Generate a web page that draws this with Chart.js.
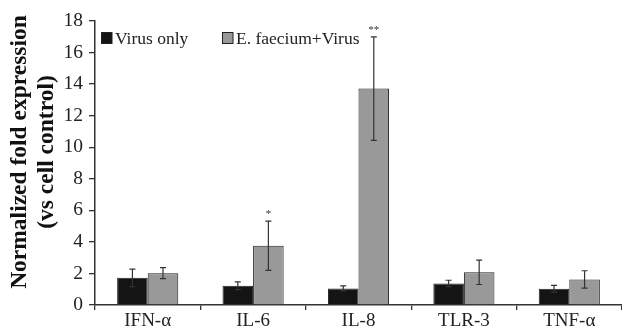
<!DOCTYPE html>
<html>
<head>
<meta charset="utf-8">
<script src="https://cdn.jsdelivr.net/npm/chart.js@4/dist/chart.umd.min.js"></script>
<style>
  html, body { margin: 0; padding: 0; background: #fff; }
  #chart { display: block; }
</style>
</head>
<body>
<canvas id="chart" width="622" height="335"></canvas>
<script>
// ==================== DATA ====================
const categories = ['IFN-\u03b1', 'IL-6', 'IL-8', 'TLR-3', 'TNF-\u03b1'];
const seriesNames = ['Virus only', 'E. faecium+Virus'];
const virusOnly = [1.72, 1.22, 1.05, 1.37, 1.03];
const virusOnlyErr = [0.56, 0.24, 0.16, 0.2, 0.22];
const faeciumVirus = [2.02, 3.76, 13.72, 2.07, 1.62];
const faeciumVirusErr = [0.35, 1.56, 3.28, 0.77, 0.55];
const significance = ['', '*', '**', '', ''];
const yTicks = [0, 2, 4, 6, 8, 10, 12, 14, 16, 18];
const yTitle = ['Normalized fold expression', '(vs cell control)'];

const serif = "'Liberation Serif', 'Times New Roman', serif";
const colors = ['#141414', '#999999'];
const errors = [virusOnlyErr, faeciumVirusErr];
const marks = [[], significance];

// ==================== PLUGINS ====================
const errorBars = {
  id: 'errorBars',
  afterDatasetsDraw(chart) {
    const { ctx, scales: { y } } = chart;
    ctx.save();
    ctx.strokeStyle = '#333';
    ctx.lineWidth = 1.2;
    chart.data.datasets.forEach((ds, i) => {
      const meta = chart.getDatasetMeta(i);
      meta.data.forEach((bar, j) => {
        const v = ds.data[j], e = errors[i][j];
        const top = y.getPixelForValue(v + e);
        const bot = y.getPixelForValue(v - e);
        ctx.beginPath();
        ctx.moveTo(bar.x, top); ctx.lineTo(bar.x, bot);
        ctx.moveTo(bar.x - 3, top); ctx.lineTo(bar.x + 3, top);
        ctx.moveTo(bar.x - 3, bot); ctx.lineTo(bar.x + 3, bot);
        ctx.stroke();
        const m = marks[i][j];
        if (m) {
          ctx.fillStyle = '#333';
          ctx.font = '11px ' + serif;
          ctx.textAlign = 'center';
          ctx.textBaseline = 'alphabetic';
          ctx.fillText(m, bar.x, top - 4);
        }
      });
    });
    ctx.restore();
  }
};

const innerLegend = {
  id: 'innerLegend',
  afterDraw(chart) {
    const { ctx, chartArea } = chart;
    const xs = [chartArea.left + 6, chartArea.left + 127];
    ctx.save();
    ctx.font = '17.5px ' + serif;
    ctx.textBaseline = 'alphabetic';
    ctx.textAlign = 'left';
    seriesNames.forEach((name, i) => {
      ctx.fillStyle = colors[i];
      ctx.fillRect(xs[i], 32.5, 11, 11);
      ctx.strokeStyle = '#222';
      ctx.lineWidth = 1;
      ctx.strokeRect(xs[i] + 0.5, 32.5, 10.5, 11);
      ctx.fillStyle = '#222';
      ctx.fillText(name, xs[i] + 14, 44);
    });
    ctx.restore();
  }
};

// y title drawn by hand so its centre can sit a bit above the plot centre
const yTitlePlugin = {
  id: 'yTitlePlugin',
  afterDraw(chart) {
    const { ctx, chartArea } = chart;
    ctx.save();
    ctx.translate(0, (chartArea.top + chartArea.bottom) / 2 - 11);
    ctx.rotate(-Math.PI / 2);
    ctx.font = 'bold 23.5px ' + serif;
    ctx.fillStyle = '#111';
    ctx.textAlign = 'center';
    ctx.textBaseline = 'middle';
    yTitle.forEach((line, i) => ctx.fillText(line, 0, 20 + i * 27));
    ctx.restore();
  }
};

// ==================== CHART ====================
new Chart(document.getElementById('chart'), {
  type: 'bar',
  data: {
    labels: categories,
    datasets: [
      { label: seriesNames[0], data: virusOnly, backgroundColor: colors[0], borderColor: '#222', borderWidth: 1 },
      { label: seriesNames[1], data: faeciumVirus, backgroundColor: colors[1], borderColor: '#222', borderWidth: 1 }
    ]
  },
  options: {
    responsive: false,
    animation: false,
    layout: { padding: { top: 21, right: 0, left: 0, bottom: 0 } },
    datasets: { bar: { categoryPercentage: 0.58, barPercentage: 1.0 } },
    plugins: { legend: { display: false }, tooltip: { enabled: false } },
    scales: {
      x: {
        offset: true,
        afterFit(scale) { scale.height = 30; },
        grid: { display: true, drawOnChartArea: false, offset: true, tickLength: 5, color: '#333', lineWidth: 1.3 },
        border: { color: '#333', width: 1.5 },
        ticks: { color: '#222', padding: 0, font: { family: serif, size: 19 } }
      },
      y: {
        min: 0,
        max: 18,
        afterFit(scale) { scale.width = 95; },
        afterBuildTicks(scale) { scale.ticks = yTicks.map(v => ({ value: v })); },
        grid: { display: true, drawOnChartArea: false, tickLength: 6, color: '#333', lineWidth: 1.3 },
        border: { color: '#333', width: 1.5 },
        ticks: { color: '#222', padding: 6, font: { family: serif, size: 19.5 } }
      }
    }
  },
  plugins: [errorBars, innerLegend, yTitlePlugin]
});
</script>
</body>
</html>
